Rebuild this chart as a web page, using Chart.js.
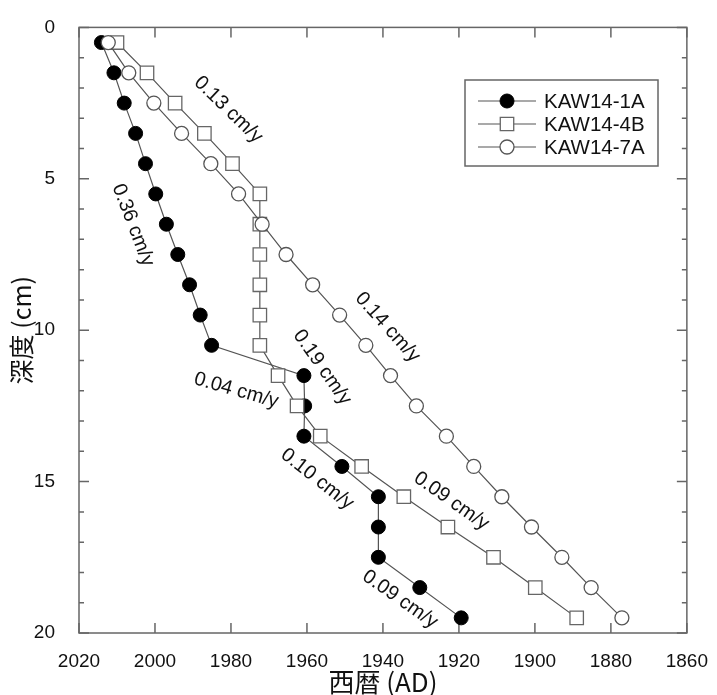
<!DOCTYPE html>
<html lang="ja">
<head>
<meta charset="UTF-8">
<title>深度-西暦</title>
<script src="https://cdn.jsdelivr.net/npm/chart.js"></script>
<style>
  html, body { margin: 0; padding: 0; background: #fff; }
  #wrap { width: 717px; height: 695px; }
</style>
</head>
<body>
<div id="wrap"><canvas id="ageChart" width="717" height="695"></canvas></div>
<script>
// 深度 (cm)
const depths = [0.5, 1.5, 2.5, 3.5, 4.5, 5.5, 6.5, 7.5, 8.5, 9.5, 10.5, 11.5, 12.5, 13.5, 14.5, 15.5, 16.5, 17.5, 18.5, 19.5];
// 西暦 (AD)
const years1A = [2014.1, 2010.8, 2008.1, 2005.1, 2002.5, 1999.8, 1997.0, 1994.0, 1990.9, 1988.1, 1985.1, 1960.8, 1960.6, 1960.8, 1950.8, 1941.2, 1941.2, 1941.2, 1930.3, 1919.4];
const years4B = [2010.0, 2002.1, 1994.7, 1987.0, 1979.6, 1972.4, 1972.4, 1972.4, 1972.4, 1972.4, 1972.4, 1967.6, 1962.6, 1956.5, 1945.6, 1934.5, 1922.9, 1910.9, 1899.9, 1889.0];
const years7A = [2012.3, 2006.9, 2000.3, 1993.0, 1985.3, 1978.0, 1971.8, 1965.5, 1958.5, 1951.4, 1944.5, 1938.0, 1931.2, 1923.3, 1916.1, 1908.7, 1900.9, 1892.9, 1885.2, 1877.1];
const xTicks = [2020, 2000, 1980, 1960, 1940, 1920, 1900, 1880, 1860];
const yTicks = [0, 5, 10, 15, 20];

// 堆積速度のラベル [テキスト, 西暦, 深度, 角度]
const rateLabels = [
    ['0.13 cm/y', 1980.7, 2.72, 44],
    ['0.36 cm/y', 2005.8, 6.53, 69],
    ['0.14 cm/y', 1938.8, 9.90, 48],
    ['0.19 cm/y', 1956.0, 11.23, 55],
    ['0.04 cm/y', 1978.6, 11.99, 16],
    ['0.10 cm/y', 1957.3, 14.92, 38],
    ['0.09 cm/y', 1922.0, 15.64, 35],
    ['0.09 cm/y', 1935.5, 18.89, 35]
];

const FONT = '"Liberation Sans", Arial, sans-serif';
const CJK = '"Noto Sans CJK JP", "Liberation Sans", sans-serif';
const AXIS_COLOR = '#666';

function toPoints(years) {
    return depths.map((d, i) => ({ x: years[i], y: d }));
}

// 枠と内向きの目盛り、凡例、ラベル
const framePlugin = {
    id: 'framePlugin',
    beforeDatasetsDraw(chart) {
        const ctx = chart.ctx;
        const a = chart.chartArea;
        const xs = chart.scales.x, ys = chart.scales.y;
        ctx.save();
        ctx.strokeStyle = AXIS_COLOR;
        ctx.lineWidth = 1.5;
        ctx.strokeRect(a.left, a.top, a.right - a.left, a.bottom - a.top);
        ctx.beginPath();
        xTicks.forEach(v => {
            const px = xs.getPixelForValue(v);
            ctx.moveTo(px, a.bottom); ctx.lineTo(px, a.bottom - 10);
            ctx.moveTo(px, a.top); ctx.lineTo(px, a.top + 10);
        });
        for (let v = 0; v <= 20; v++) {
            const py = ys.getPixelForValue(v);
            const len = (v % 5 === 0) ? 10 : 5;
            ctx.moveTo(a.left, py); ctx.lineTo(a.left + len, py);
            ctx.moveTo(a.right, py); ctx.lineTo(a.right - len, py);
        }
        ctx.stroke();

        // rate labels
        ctx.fillStyle = '#111';
        ctx.font = '20px ' + FONT;
        ctx.textAlign = 'center';
        ctx.textBaseline = 'middle';
        rateLabels.forEach(r => {
            ctx.save();
            ctx.translate(xs.getPixelForValue(r[1]), ys.getPixelForValue(r[2]));
            ctx.rotate(r[3] * Math.PI / 180);
            ctx.fillText(r[0], 0, 0);
            ctx.restore();
        });
        ctx.restore();
    },
    afterDraw(chart) {
        const ctx = chart.ctx;
        ctx.save();
        // legend box
        const bx = 465, by = 80, bw = 193, bh = 86;
        ctx.fillStyle = '#fff';
        ctx.fillRect(bx, by, bw, bh);
        ctx.strokeStyle = AXIS_COLOR;
        ctx.lineWidth = 1.5;
        ctx.strokeRect(bx, by, bw, bh);
        chart.data.datasets.forEach((ds, i) => {
            const y = 101 + i * 23;
            ctx.strokeStyle = ds.borderColor;
            ctx.lineWidth = ds.borderWidth;
            ctx.beginPath();
            ctx.moveTo(478, y); ctx.lineTo(536, y);
            ctx.stroke();
            ctx.fillStyle = ds.pointBackgroundColor;
            ctx.strokeStyle = ds.pointBorderColor;
            ctx.lineWidth = ds.pointBorderWidth;
            ctx.beginPath();
            if (ds.pointStyle === 'rect') {
                const s = ds.pointRadius * Math.SQRT1_2;
                ctx.rect(507 - s, y - s, 2 * s, 2 * s);
            } else {
                ctx.arc(507, y, ds.pointRadius, 0, Math.PI * 2);
            }
            ctx.fill();
            ctx.stroke();
            ctx.fillStyle = '#111';
            ctx.font = '20.5px ' + FONT;
            ctx.textAlign = 'left';
            ctx.textBaseline = 'middle';
            ctx.fillText(ds.label, 544, y + 1);
        });
        ctx.restore();
    }
};

const ctx = document.getElementById('ageChart').getContext('2d');
const chart = new Chart(ctx, {
    type: 'scatter',
    data: {
        datasets: [
            {
                label: 'KAW14-1A',
                data: toPoints(years1A),
                showLine: true,
                borderColor: '#555',
                borderWidth: 1.2,
                pointStyle: 'circle',
                pointRadius: 7,
                pointBackgroundColor: '#000',
                pointBorderColor: '#000',
                pointBorderWidth: 1,
                order: 3
            },
            {
                label: 'KAW14-4B',
                data: toPoints(years4B),
                showLine: true,
                borderColor: '#555',
                borderWidth: 1.2,
                pointStyle: 'rect',
                pointRadius: 9.5,
                pointBackgroundColor: '#fff',
                pointBorderColor: '#666',
                pointBorderWidth: 1.3,
                order: 2
            },
            {
                label: 'KAW14-7A',
                data: toPoints(years7A),
                showLine: true,
                borderColor: '#555',
                borderWidth: 1.2,
                pointStyle: 'circle',
                pointRadius: 7,
                pointBackgroundColor: '#fff',
                pointBorderColor: '#555',
                pointBorderWidth: 1.3,
                order: 1
            }
        ]
    },
    options: {
        responsive: false,
        animation: false,
        layout: { padding: { top: 23, right: 27, left: 0, bottom: 0 } },
        plugins: {
            legend: { display: false },
            tooltip: { enabled: false }
        },
        scales: {
            x: {
                type: 'linear',
                reverse: true,
                min: 1860,
                max: 2020,
                afterBuildTicks: s => { s.ticks = xTicks.map(v => ({ value: v })); },
                afterFit: s => { s.height = 62; },
                grid: { display: false },
                border: { display: false },
                ticks: {
                    padding: 9, color: '#111', maxRotation: 0,
                    font: { family: FONT, size: 19 },
                    callback: v => String(v)
                },
                title: {
                    display: true,
                    text: '西暦 (AD)',
                    color: '#111',
                    padding: 0,
                    font: { family: CJK, size: 26, lineHeight: 1 }
                }
            },
            y: {
                type: 'linear',
                reverse: true,
                min: 0,
                max: 20,
                afterBuildTicks: s => { s.ticks = yTicks.map(v => ({ value: v })); },
                afterFit: s => { s.width = 79; },
                grid: { display: false },
                border: { display: false },
                ticks: {
                    padding: 16, color: '#111',
                    font: { family: FONT, size: 19 },
                    callback: v => String(v)
                },
                title: {
                    display: true,
                    text: '深度 (cm)',
                    color: '#111',
                    padding: { top: 9, bottom: 0 },
                    font: { family: CJK, size: 25, lineHeight: 1 }
                }
            }
        }
    },
    plugins: [framePlugin]
});
</script>
</body>
</html>
